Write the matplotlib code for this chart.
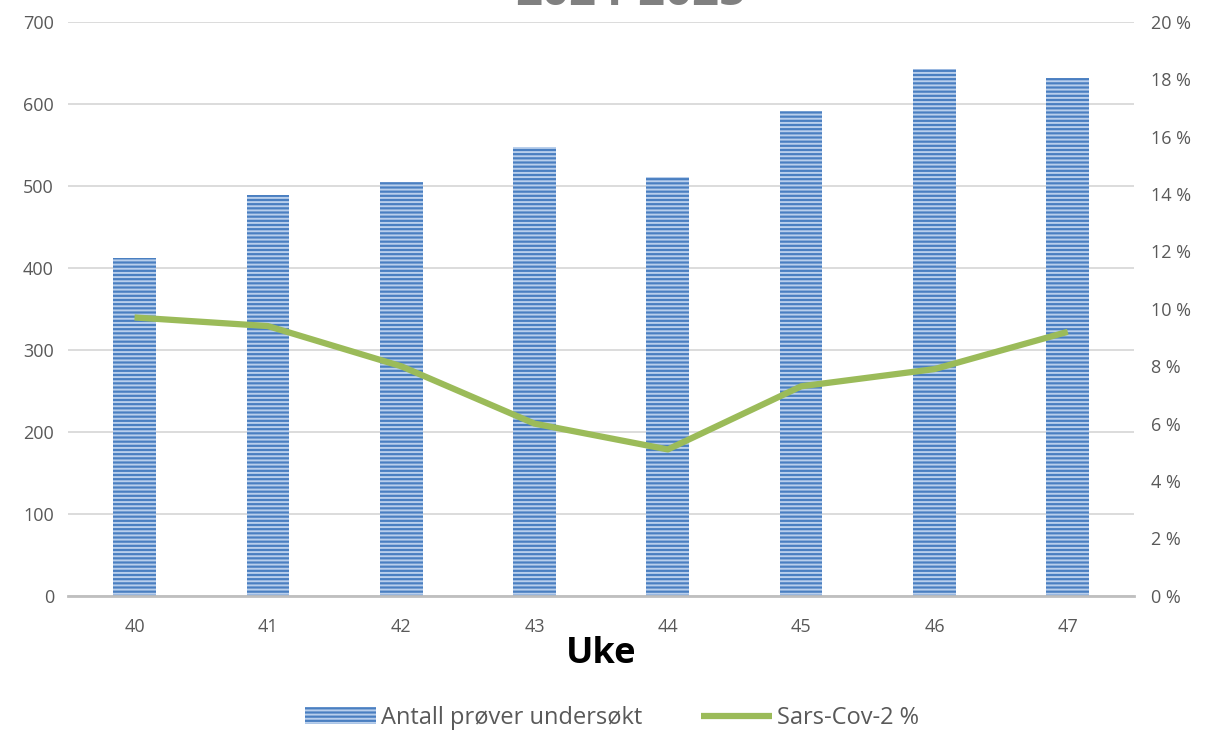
import matplotlib.pyplot as plt
from matplotlib.ticker import FuncFormatter

plt.rcParams['font.family'] = ['Open Sans', 'DejaVu Sans']
plt.rcParams['hatch.linewidth'] = 1.4

weeks = ['40', '41', '42', '43', '44', '45', '46', '47']
samples = [412, 489, 505, 548, 511, 591, 643, 632]
sars_pct = [9.7, 9.4, 8.0, 6.0, 5.1, 7.3, 7.9, 9.2]

fig = plt.figure(figsize=(12.12, 7.31), dpi=100)
ax = fig.add_axes([0.056, 0.185, 0.88, 0.785])
x = list(range(len(weeks)))

bars = ax.bar(x, samples, width=0.32, color='#4a7fc1', edgecolor='#b9cfec',
              hatch='----', linewidth=0, label='Antall prøver undersøkt', zorder=2)
ax.set_ylim(0, 700)
ax.set_xlim(-0.5, 7.5)
ax.set_yticks(range(0, 701, 100))
ax.grid(axis='y', color='#d9d9d9', linewidth=1.3, zorder=0)
ax.set_axisbelow(True)
for s in ['top', 'right', 'left']:
    ax.spines[s].set_visible(False)
ax.spines['bottom'].set_color('#bfbfbf')
ax.spines['bottom'].set_linewidth(2)
ax.tick_params(axis='y', length=0, labelsize=13, colors='#595959', pad=10)
ax.tick_params(axis='x', length=0, labelsize=13, colors='#595959', pad=16)
ax.set_xticks(x)
ax.set_xticklabels(weeks)
ax.set_xlabel('Uke', fontsize=26, fontweight='bold', color='black', labelpad=0)

ax2 = ax.twinx()
line, = ax2.plot(x, sars_pct, color='#9bbb59', linewidth=4.5,
                 label='Sars-Cov-2 %', solid_capstyle='butt')
ax2.set_ylim(0, 20)
ax2.set_yticks(range(0, 21, 2))
ax2.yaxis.set_major_formatter(FuncFormatter(lambda v, p: f'{int(v)} %'))
ax2.tick_params(axis='y', length=0, labelsize=13, colors='#595959', pad=12)
for s in ['top', 'right', 'left', 'bottom']:
    ax2.spines[s].set_visible(False)

# title sits mostly above the visible area, as in the source image
fig.text(0.52, 0.993, '2024-2025', ha='center', va='baseline', fontsize=34,
         fontweight='bold', color='#808080')

fig.legend([bars, line], ['Antall prøver undersøkt', 'Sars-Cov-2 %'],
           loc='center', bbox_to_anchor=(0.505, 0.018), ncol=2, frameon=False,
           fontsize=17, labelcolor='#595959', handlelength=3, columnspacing=2.5,
           handletextpad=0.2)

fig.savefig('out.png', dpi=100)
